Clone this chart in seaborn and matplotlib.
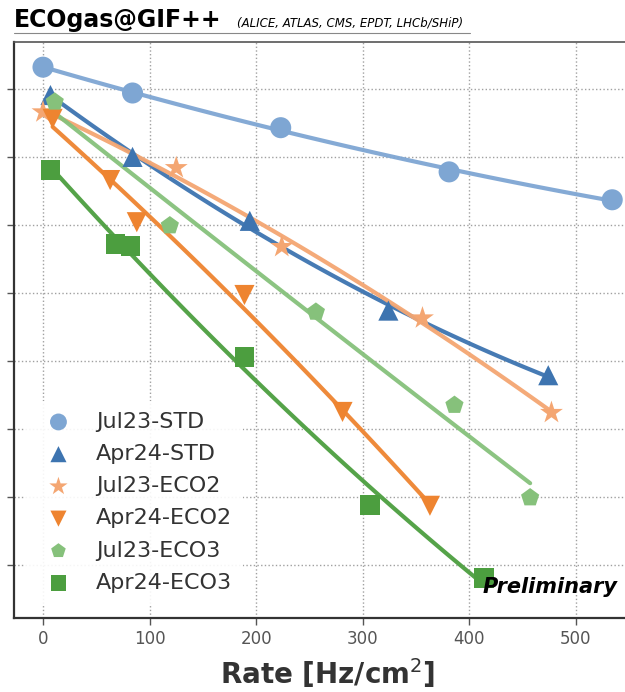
import numpy as np
import pandas as pd
import matplotlib
matplotlib.use("Agg")
import matplotlib.pyplot as plt
import seaborn as sns

# ---------------- data ----------------
series = ["Jul23-STD", "Apr24-STD", "Jul23-ECO2", "Apr24-ECO2", "Jul23-ECO3", "Apr24-ECO3"]

rate_jul23_std = [0, 84, 223, 381, 534]
val_jul23_std = [7.32, 6.94, 6.43, 5.78, 5.37]

rate_apr24_std = [7, 84, 194, 324, 474]
val_apr24_std = [6.91, 6.00, 5.06, 3.74, 2.79]

rate_jul23_eco2 = [0, 125, 224, 356, 477]
val_jul23_eco2 = [6.66, 5.84, 4.68, 3.63, 2.24]

rate_apr24_eco2 = [9, 63, 88, 189, 281, 363]
val_apr24_eco2 = [6.56, 5.66, 5.04, 3.97, 2.25, 0.87]

rate_jul23_eco3 = [11, 119, 256, 386, 457]
val_jul23_eco3 = [6.81, 4.99, 3.72, 2.35, 0.99]

rate_apr24_eco3 = [7, 68, 82, 189, 307, 414]
val_apr24_eco3 = [5.81, 4.72, 4.69, 3.06, 0.88, -0.19]

x_ticks = [0, 100, 200, 300, 400, 500]
y_ticks = [0, 1, 2, 3, 4, 5, 6, 7]

rates = [rate_jul23_std, rate_apr24_std, rate_jul23_eco2, rate_apr24_eco2, rate_jul23_eco3, rate_apr24_eco3]
vals = [val_jul23_std, val_apr24_std, val_jul23_eco2, val_apr24_eco2, val_jul23_eco3, val_apr24_eco3]

df = pd.concat(
    [pd.DataFrame({"series": s, "rate": r, "val": v}) for s, r, v in zip(series, rates, vals)],
    ignore_index=True,
)

# ---------------- styling ----------------
colors = {
    "Jul23-STD": "#7ea6d3",
    "Apr24-STD": "#3d74b0",
    "Jul23-ECO2": "#f4a672",
    "Apr24-ECO2": "#ee8430",
    "Jul23-ECO3": "#86c17b",
    "Apr24-ECO3": "#4c9e3f",
}
markers = {
    "Jul23-STD": "o",
    "Apr24-STD": "^",
    "Jul23-ECO2": "*",
    "Apr24-ECO2": "v",
    "Jul23-ECO3": "p",
    "Apr24-ECO3": "s",
}
sizes = {
    "Jul23-STD": 230,
    "Apr24-STD": 210,
    "Jul23-ECO2": 300,
    "Apr24-ECO2": 210,
    "Jul23-ECO3": 190,
    "Apr24-ECO3": 200,
}

sns.set_theme(style="white")
plt.rcParams["font.family"] = ["DejaVu Sans"]

fig = plt.figure(figsize=(6.25, 6.92), dpi=100)
ax = fig.add_axes([14 / 625, 1 - 618 / 692, 1 - 14 / 625, (618 - 42) / 692])

for s in series:
    d = df[df["series"] == s]
    sns.regplot(data=d, x="rate", y="val", order=2, ci=None, scatter=False,
                color=colors[s], line_kws={"lw": 3.0, "alpha": 0.95, "zorder": 2}, ax=ax)
for s in series:
    d = df[df["series"] == s]
    sns.scatterplot(data=d, x="rate", y="val", marker=markers[s], s=sizes[s],
                    color=colors[s], edgecolor="none", linewidth=0, label=s,
                    zorder=3, ax=ax)

ax.set_xlim(-27.2, 546)
ax.set_ylim(-0.78, 7.69)
ax.set_xticks(x_ticks)
ax.set_xticklabels([str(t) for t in x_ticks])
ax.set_yticks(y_ticks)
ax.set_yticklabels([""] * len(y_ticks))
ax.grid(True, linestyle=":", color="#a0a0a0", linewidth=1.0)
ax.set_axisbelow(True)

for side in ["left", "bottom"]:
    ax.spines[side].set_color("#333333")
    ax.spines[side].set_linewidth(1.6)
ax.spines["top"].set_color("#555555")
ax.spines["top"].set_linewidth(1.2)
ax.spines["right"].set_visible(False)

ax.tick_params(axis="both", which="both", direction="out", length=5, width=1,
               color="#555555", labelcolor="#555555", labelsize=12,
               bottom=True, left=True)

ax.set_xlabel("Rate [Hz/cm$^2$]", fontsize=20, fontweight="bold", color="#333333", labelpad=6)
ax.xaxis.set_label_coords((328 - 14) / 611, -0.066)
ax.set_ylabel("")

leg = ax.legend(loc="lower left", bbox_to_anchor=(0.0, 0.005), fontsize=16,
                frameon=True, framealpha=0.9, edgecolor="none", labelspacing=0.55,
                handletextpad=0.7, markerscale=0.8, borderpad=0.5)
for t in leg.get_texts():
    t.set_color("#333333")

ax.text(1 - 7 / 611, (618 - 587) / 576, "Preliminary", transform=ax.transAxes, ha="right", va="center",
        fontsize=15, fontweight="bold", fontstyle="italic", color="black", zorder=5)

fig.text(14 / 625, 1 - 27 / 692, "ECOgas@GIF++", fontsize=17, fontweight="bold",
         color="black", ha="left", va="baseline")
fig.text(237 / 625, 1 - 27 / 692, "(ALICE, ATLAS, CMS, EPDT, LHCb/SHiP)", fontsize=8.5,
         fontstyle="italic", color="black", ha="left", va="baseline")
fig.add_artist(plt.Line2D([14 / 625, 470 / 625], [1 - 33 / 692, 1 - 33 / 692],
                          color="#888888", lw=0.8))

fig.savefig("out.png", dpi=100)
